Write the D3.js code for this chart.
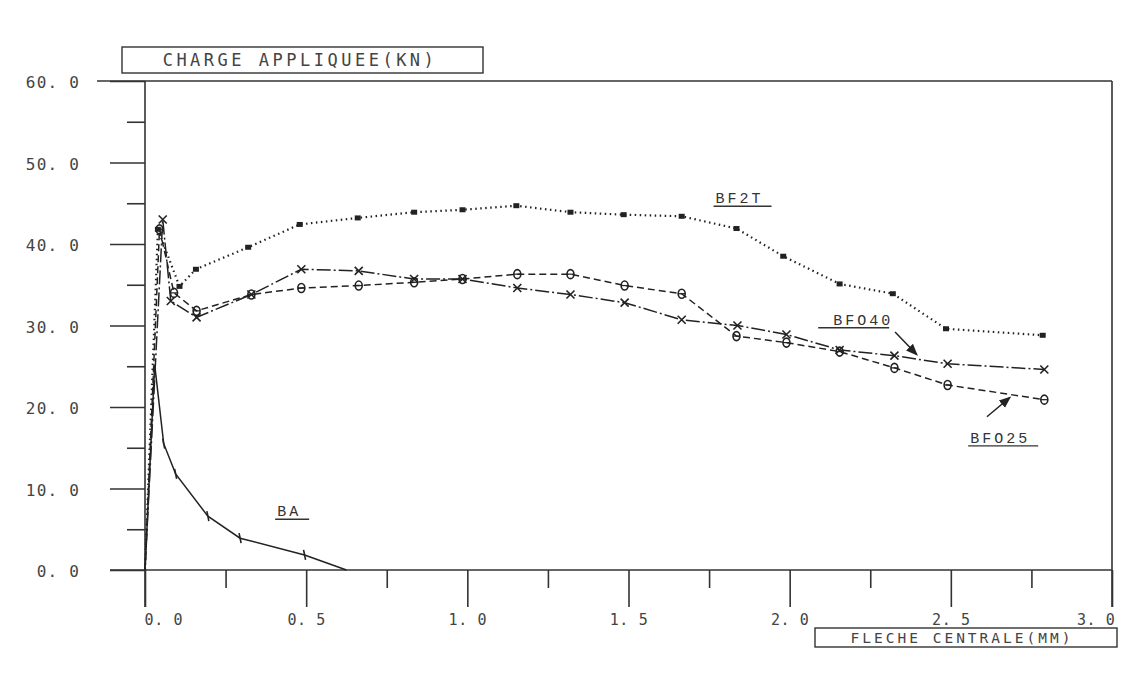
<!DOCTYPE html>
<html>
<head>
<meta charset="utf-8">
<script src="https://cdn.jsdelivr.net/npm/d3@7"></script>
<style>
    body { margin: 0; background: #fff; }
    text { font-family: "DejaVu Sans Mono", monospace; fill: #444; }
</style>
</head>
<body>
<div id="chart"></div>
<script>
// fleche centrale (mm) / charge appliquee (kN)
var baX = [0, 0.03, 0.058, 0.095, 0.195, 0.295, 0.495, 0.625];
var baY = [0, 25.2, 15.5, 11.8, 6.6, 3.9, 1.85, 0];

var bf2tX = [0, 0.04, 0.107, 0.158, 0.32, 0.48, 0.66, 0.835, 0.985, 1.152, 1.32, 1.485, 1.665, 1.835, 1.98, 2.155, 2.32, 2.485, 2.785];
var bf2tY = [0, 41.8, 34.8, 36.9, 39.6, 42.4, 43.2, 43.9, 44.2, 44.7, 43.9, 43.6, 43.4, 41.9, 38.5, 35.1, 33.9, 29.6, 28.8];

var bfo40X = [0, 0.055, 0.08, 0.16, 0.33, 0.485, 0.663, 0.835, 0.985, 1.155, 1.32, 1.488, 1.665, 1.838, 1.99, 2.155, 2.325, 2.49, 2.79];
var bfo40Y = [0, 43.0, 33.0, 31.0, 33.8, 36.9, 36.7, 35.7, 35.7, 34.6, 33.8, 32.8, 30.7, 30.0, 28.9, 27.0, 26.3, 25.3, 24.6];

var bfo25X = [0, 0.045, 0.09, 0.16, 0.33, 0.485, 0.663, 0.835, 0.985, 1.155, 1.32, 1.488, 1.665, 1.835, 1.99, 2.155, 2.325, 2.49, 2.79];
var bfo25Y = [0, 41.8, 34.0, 31.8, 33.8, 34.6, 34.9, 35.3, 35.7, 36.3, 36.3, 34.9, 33.9, 28.7, 27.9, 26.8, 24.8, 22.7, 20.9];

var yMajor = [0, 10, 20, 30, 40, 50, 60];
var yMinor = [5, 15, 25, 35, 45, 55];
var xMajor = [0, 0.5, 1, 1.5, 2, 2.5, 3];
var xMinor = [0.25, 0.75, 1.25, 1.75, 2.25, 2.75];

// curve labels: name, text position, arrow from/to (data units)
var labelNames = ["BF2T", "BFO40", "BFO25", "BA"];
var labelX = [1.77, 2.135, 2.56, 0.41];
var labelY = [45.0, 30.1, 15.6, 6.6];
var arrowFrom = [null, [2.327, 29.2], [2.612, 18.8], null];
var arrowTo = [null, [2.395, 26.4], [2.684, 21.2], null];

(function () {
    var W = 1131, H = 675;
    var x0 = 145, x1 = 1112, y0 = 570, y1 = 81;

    var svg = d3.select("#chart").append("svg")
        .attr("width", W)
        .attr("height", H);

    svg.append("defs").append("marker")
        .attr("id", "head")
        .attr("viewBox", "0 0 10 10")
        .attr("refX", 9).attr("refY", 5)
        .attr("markerWidth", 8).attr("markerHeight", 8)
        .attr("orient", "auto")
        .append("path")
        .attr("d", "M0,1L10,5L0,9z")
        .style("fill", "#222");

    var x = d3.scaleLinear().domain([0, 3]).range([x0, x1]);
    var y = d3.scaleLinear().domain([0, 60]).range([y0, y1]);

    var fmt = function (d) { return d3.format(".1f")(d).replace(".", ". "); };

    // frame
    var frame = svg.append("g").style("stroke", "#333").style("stroke-width", 1.6);
    frame.append("line").attr("x1", x0).attr("x2", x0).attr("y1", y1).attr("y2", y0 + 37);
    frame.append("line").attr("x1", x1).attr("x2", x1).attr("y1", y1).attr("y2", y0 + 37);
    frame.append("line").attr("x1", x0 - 48).attr("x2", x1).attr("y1", y1).attr("y2", y1);
    frame.append("line").attr("x1", x0 - 35).attr("x2", x1).attr("y1", y0).attr("y2", y0);

    // y axis
    var yAx = svg.append("g")
        .attr("transform", "translate(" + x0 + ",0)")
        .call(d3.axisLeft(y).tickValues(yMajor).tickSize(35).tickPadding(30).tickFormat(fmt));
    yAx.selectAll("text").style("font-size", "16px").style("letter-spacing", "1.2px")
        .attr("dy", "0.42em");
    svg.append("g")
        .attr("transform", "translate(" + x0 + ",0)")
        .call(d3.axisLeft(y).tickValues(yMinor).tickSize(18).tickFormat(""));

    // x axis
    var xAx = svg.append("g")
        .attr("transform", "translate(0," + y0 + ")")
        .call(d3.axisBottom(x).tickValues(xMajor).tickSize(37).tickPadding(7).tickFormat(fmt));
    xAx.selectAll("text").style("font-size", "15px").style("letter-spacing", "0.6px");
    xAx.selectAll("text").filter(function (d) { return d === 0; })
        .attr("text-anchor", "start").attr("dx", "-1px");
    xAx.selectAll("text").filter(function (d) { return d === 3; })
        .attr("text-anchor", "end").attr("dx", "3px");
    svg.append("g")
        .attr("transform", "translate(0," + y0 + ")")
        .call(d3.axisBottom(x).tickValues(xMinor).tickSize(18).tickFormat(""));

    svg.selectAll(".domain").remove();
    svg.selectAll(".tick line").style("stroke", "#333").style("stroke-width", 1.6);

    // axis title boxes
    svg.append("rect").attr("x", 122).attr("y", 47).attr("width", 361).attr("height", 26)
        .style("fill", "none").style("stroke", "#333").style("stroke-width", 1.4);
    svg.append("text").attr("x", 300).attr("y", 66).attr("text-anchor", "middle")
        .style("font-size", "17px").style("letter-spacing", "3.5px")
        .text("CHARGE APPLIQUEE(KN)");

    svg.append("rect").attr("x", 815).attr("y", 628).attr("width", 302).attr("height", 19)
        .style("fill", "none").style("stroke", "#333").style("stroke-width", 1.4);
    svg.append("text").attr("x", 962).attr("y", 643).attr("text-anchor", "middle")
        .style("font-size", "14.5px").style("letter-spacing", "3px")
        .text("FLECHE CENTRALE(MM)");

    // series
    var series = [
        { name: "BF2T", xs: bf2tX, ys: bf2tY, dash: "1.5,3.5", mark: "square", skip: 1 },
        { name: "BFO40", xs: bfo40X, ys: bfo40Y, dash: "14,3,2,3", mark: "cross", skip: 1 },
        { name: "BFO25", xs: bfo25X, ys: bfo25Y, dash: "7,4", mark: "theta", skip: 1 },
        { name: "BA", xs: baX, ys: baY, dash: null, mark: "tick", skip: 2 }
    ];

    var line = d3.line()
        .x(function (d) { return x(d[0]); })
        .y(function (d) { return y(d[1]); });

    series.forEach(function (s) {
        var pts = s.xs.map(function (v, i) { return [v, s.ys[i]]; });
        svg.append("path")
            .datum(pts)
            .attr("d", line)
            .style("fill", "none")
            .style("stroke", "#222")
            .style("stroke-width", s.mark === "square" ? 2.2 : 1.5)
            .style("stroke-dasharray", s.dash);

        var last = s.mark === "tick" ? pts.length - 1 : pts.length;
        var g = svg.append("g").selectAll("g")
            .data(pts.slice(s.skip, last))
            .enter().append("g")
            .attr("transform", function (d) { return "translate(" + x(d[0]) + "," + y(d[1]) + ")"; });

        if (s.mark === "square") {
            g.append("rect").attr("x", -3).attr("y", -2.5).attr("width", 6).attr("height", 5)
                .style("fill", "#222");
        } else if (s.mark === "cross") {
            g.append("path").attr("d", "M-4,-4L4,4M-4,4L4,-4")
                .style("stroke", "#222").style("stroke-width", 1.6);
        } else if (s.mark === "theta") {
            g.append("ellipse").attr("rx", 3.5).attr("ry", 4.5)
                .style("fill", "none").style("stroke", "#222").style("stroke-width", 1.6);
            g.append("line").attr("x1", -3.5).attr("x2", 3.5)
                .style("stroke", "#222").style("stroke-width", 1.2);
        } else {
            g.append("line").attr("x1", -1).attr("x2", 1).attr("y1", -5).attr("y2", 5)
                .style("stroke", "#222").style("stroke-width", 1.6);
        }
    });

    // curve labels with underline
    labelNames.forEach(function (n, i) {
        var t = svg.append("text")
            .attr("x", x(labelX[i]))
            .attr("y", y(labelY[i]))
            .style("font-family", "'Liberation Mono', monospace")
            .style("font-size", "15px")
            .style("letter-spacing", "3px")
            .style("fill", "#333")
            .text(n);
        var w = t.node().getComputedTextLength();
        var ux0 = x(labelX[i]) - (n === "BFO40" ? 15 : 2);
        var ux1 = x(labelX[i]) + w + (n === "BFO40" ? -4 : 8);
        svg.append("line")
            .attr("x1", ux0).attr("x2", ux1)
            .attr("y1", y(labelY[i]) + 3).attr("y2", y(labelY[i]) + 3)
            .style("stroke", "#333").style("stroke-width", 1.4);

        if (arrowFrom[i]) {
            svg.append("line")
                .attr("x1", x(arrowFrom[i][0])).attr("y1", y(arrowFrom[i][1]))
                .attr("x2", x(arrowTo[i][0])).attr("y2", y(arrowTo[i][1]))
                .attr("marker-end", "url(#head)")
                .style("stroke", "#222").style("stroke-width", 1.5);
        }
    });
})();
</script>
</body>
</html>
